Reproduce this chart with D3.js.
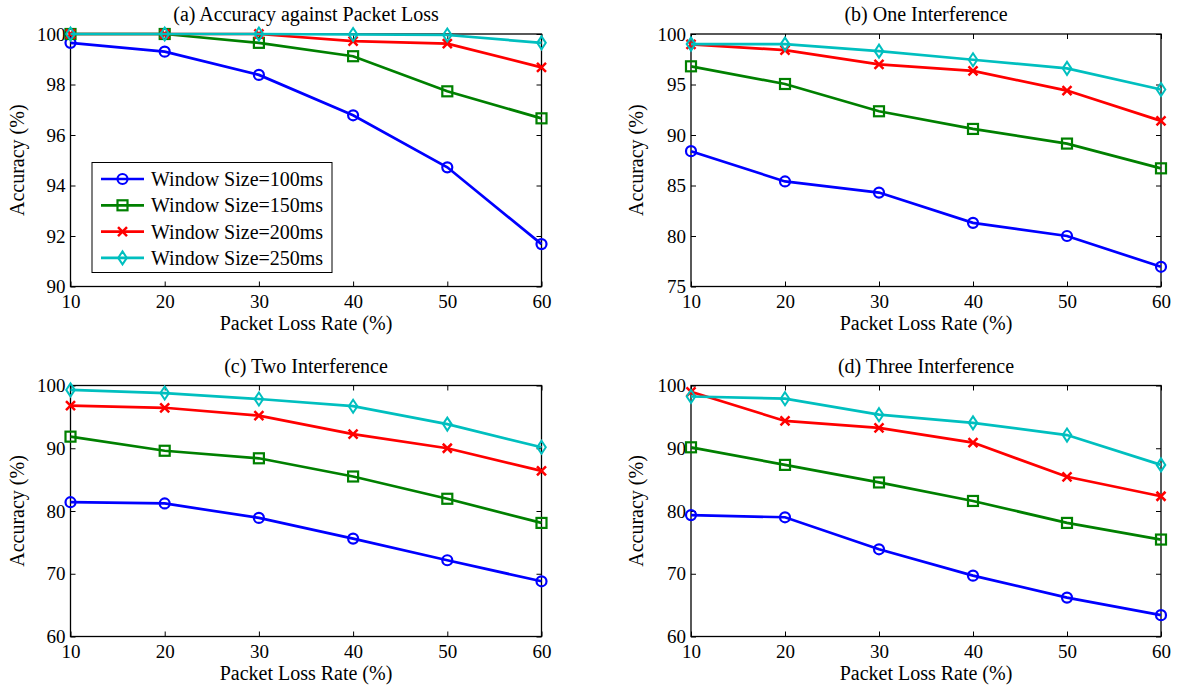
<!DOCTYPE html>
<html>
<head>
<meta charset="utf-8">
<script src="https://cdn.jsdelivr.net/npm/d3@7"></script>
<style>
  body { margin: 0; background: #fff; }
  text { font-family: "Liberation Serif", "Times New Roman", serif; fill: #000; }
</style>
</head>
<body>
<div id="chart"></div>
<script>
var lossRates = [10, 20, 30, 40, 50, 60];
var seriesNames = ["Window Size=100ms", "Window Size=150ms", "Window Size=200ms", "Window Size=250ms"];
var colors = ["#0000ff", "#008000", "#ff0000", "#00bfbf"];
var markers = ["circle", "square", "cross", "diamond"];

// (a) Accuracy against Packet Loss
var lossW100 = [99.65, 99.3, 98.38, 96.78, 94.72, 91.68];
var lossW150 = [100, 100, 99.65, 99.12, 97.73, 96.66];
var lossW200 = [100, 100, 100, 99.72, 99.62, 98.68];
var lossW250 = [100, 100, 100, 99.98, 99.96, 99.65];
// (b) One Interference
var oneW100 = [88.4, 85.4, 84.3, 81.3, 80.0, 76.95];
var oneW150 = [96.8, 95.05, 92.35, 90.6, 89.15, 86.7];
var oneW200 = [98.98, 98.4, 97.0, 96.35, 94.4, 91.4];
var oneW250 = [99.0, 99.0, 98.3, 97.45, 96.6, 94.5];
// (c) Two Interference
var twoW100 = [81.4, 81.2, 78.9, 75.6, 72.15, 68.8];
var twoW150 = [91.85, 89.6, 88.4, 85.5, 81.95, 78.1];
var twoW200 = [96.8, 96.45, 95.2, 92.25, 90.0, 86.4];
var twoW250 = [99.3, 98.8, 97.85, 96.7, 93.85, 90.15];
// (d) Three Interference
var threeW100 = [79.35, 79.0, 73.9, 69.7, 66.2, 63.4];
var threeW150 = [90.15, 87.35, 84.55, 81.6, 78.1, 75.45];
var threeW200 = [99.0, 94.35, 93.25, 90.9, 85.45, 82.35];
var threeW250 = [98.25, 97.9, 95.35, 94.05, 92.1, 87.35];

var panels = [
  { title: "(a) Accuracy against Packet Loss", series: [lossW100, lossW150, lossW200, lossW250],
    yDomain: [90, 100], yTicks: [90, 92, 94, 96, 98, 100], left: 70.5, top: 34, w: 471, h: 252.5, legend: true },
  { title: "(b) One Interference", series: [oneW100, oneW150, oneW200, oneW250],
    yDomain: [75, 100], yTicks: [75, 80, 85, 90, 95, 100], left: 691, top: 34, w: 470, h: 252.5 },
  { title: "(c) Two Interference", series: [twoW100, twoW150, twoW200, twoW250],
    yDomain: [60, 100], yTicks: [60, 70, 80, 90, 100], left: 70.5, top: 385.5, w: 471, h: 251 },
  { title: "(d) Three Interference", series: [threeW100, threeW150, threeW200, threeW250],
    yDomain: [60, 100], yTicks: [60, 70, 80, 90, 100], left: 691, top: 385.5, w: 470, h: 251 }
];

var tickLen = 5;

var svg = d3.select("#chart").append("svg")
    .attr("width", 1177)
    .attr("height", 685);

function drawMarker(g, type, color) {
  if (type == "circle") {
    g.append("circle").attr("r", 5).attr("fill", "none").attr("stroke", color).attr("stroke-width", 2.2);
  } else if (type == "square") {
    g.append("rect").attr("x", -5).attr("y", -5).attr("width", 10).attr("height", 10)
      .attr("fill", "none").attr("stroke", color).attr("stroke-width", 2.2);
  } else if (type == "cross") {
    g.append("path").attr("d", "M-4.5,-4.5L4.5,4.5M-4.5,4.5L4.5,-4.5").attr("stroke", color).attr("stroke-width", 2.5);
  } else {
    g.append("path").attr("d", "M0,-6.5L4.3,0L0,6.5L-4.3,0Z").attr("fill", "none")
      .attr("stroke", color).attr("stroke-width", 2);
  }
}

panels.forEach(function(p) {
  var pw = p.w, ph = p.h;
  var g = svg.append("g").attr("transform", "translate(" + p.left + "," + p.top + ")");
  var x = d3.scaleLinear().domain([10, 60]).range([0, pw]);
  var y = d3.scaleLinear().domain(p.yDomain).range([ph, 0]);

  // ticks inside on all four sides, matlab style
  g.append("g").attr("transform", "translate(0," + ph + ")")
    .call(d3.axisBottom(x).tickValues(lossRates).tickSizeInner(-tickLen).tickSizeOuter(0).tickPadding(8))
    .call(function(a) { a.select(".domain").remove(); });
  g.append("g")
    .call(d3.axisTop(x).tickValues(lossRates).tickSizeInner(-tickLen).tickSizeOuter(0).tickFormat(""))
    .call(function(a) { a.select(".domain").remove(); });
  g.append("g")
    .call(d3.axisLeft(y).tickValues(p.yTicks).tickSizeInner(-tickLen).tickSizeOuter(0).tickPadding(5))
    .call(function(a) { a.select(".domain").remove(); });
  g.append("g").attr("transform", "translate(" + pw + ",0)")
    .call(d3.axisRight(y).tickValues(p.yTicks).tickSizeInner(-tickLen).tickSizeOuter(0).tickFormat(""))
    .call(function(a) { a.select(".domain").remove(); });
  g.selectAll(".tick line").attr("stroke", "#000");
  g.selectAll(".tick text").style("font-size", "19px").attr("font-family", null);

  g.append("rect").attr("width", pw).attr("height", ph)
    .attr("fill", "none").attr("stroke", "#000").attr("stroke-width", 1.3);

  var line = d3.line()
    .x(function(d, i) { return x(lossRates[i]); })
    .y(function(d) { return y(d); });

  p.series.forEach(function(vals, si) {
    g.append("path").datum(vals)
      .attr("d", line)
      .attr("fill", "none")
      .attr("stroke", colors[si])
      .attr("stroke-width", 2.7);
    vals.forEach(function(v, i) {
      var m = g.append("g").attr("transform", "translate(" + x(lossRates[i]) + "," + y(v) + ")");
      drawMarker(m, markers[si], colors[si]);
    });
  });

  g.append("text").text(p.title)
    .attr("x", pw / 2).attr("y", -13)
    .attr("text-anchor", "middle").style("font-size", "20px");
  g.append("text").text("Packet Loss Rate (%)")
    .attr("x", pw / 2).attr("y", ph + 43)
    .attr("text-anchor", "middle").style("font-size", "20px");
  g.append("text").text("Accuracy (%)")
    .attr("transform", "translate(" + (p.left < 300 ? -47 : -48) + "," + (ph / 2) + ") rotate(-90)")
    .attr("text-anchor", "middle").style("font-size", "20px");

  if (p.legend) {
    var lg = g.append("g").attr("transform", "translate(21.5,128.5)");
    lg.append("rect").attr("width", 240).attr("height", 110)
      .attr("fill", "#fff").attr("stroke", "#000").attr("stroke-width", 1);
    seriesNames.forEach(function(name, si) {
      var ry = 16.5 + si * 26.3;
      lg.append("line").attr("x1", 9).attr("x2", 52).attr("y1", ry).attr("y2", ry)
        .attr("stroke", colors[si]).attr("stroke-width", 2.7);
      drawMarker(lg.append("g").attr("transform", "translate(30.5," + ry + ")"), markers[si], colors[si]);
      lg.append("text").text(name).attr("x", 59).attr("y", ry + 7).style("font-size", "20px");
    });
  }
});
</script>
</body>
</html>
